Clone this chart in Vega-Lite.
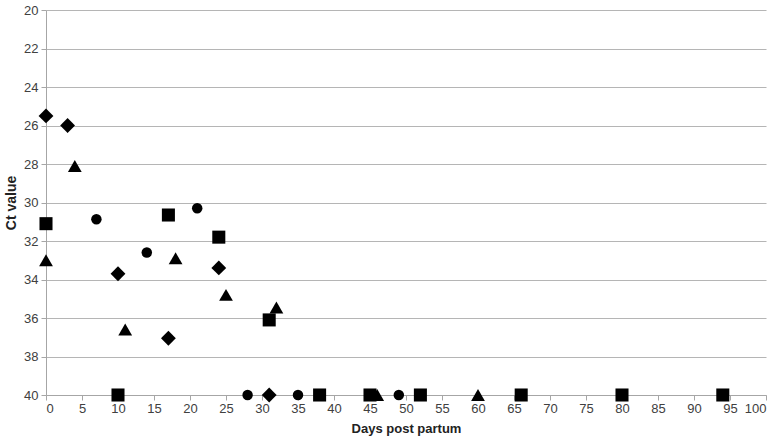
{
  "$schema": "https://vega.github.io/schema/vega-lite/v6.json",
  "width": 720,
  "height": 385,
  "autosize": {"type": "none"},
  "padding": {"left": 46, "top": 10, "right": 14, "bottom": 46},
  "background": "white",
  "config": {
    "view": {"stroke": null},
    "font": "Liberation Sans"
  },
  "data": {
    "values": [
      {"series": "A", "day": 0, "ct": 25.5},
      {"series": "A", "day": 3, "ct": 26.0},
      {"series": "A", "day": 10, "ct": 33.7},
      {"series": "A", "day": 17, "ct": 37.05},
      {"series": "A", "day": 24, "ct": 33.4},
      {"series": "A", "day": 31, "ct": 40},
      {"series": "B", "day": 0, "ct": 31.1},
      {"series": "B", "day": 10, "ct": 40},
      {"series": "B", "day": 17, "ct": 30.65},
      {"series": "B", "day": 24, "ct": 31.8},
      {"series": "B", "day": 31, "ct": 36.1},
      {"series": "B", "day": 38, "ct": 40},
      {"series": "B", "day": 45, "ct": 40},
      {"series": "B", "day": 52, "ct": 40},
      {"series": "B", "day": 66, "ct": 40},
      {"series": "B", "day": 80, "ct": 40},
      {"series": "B", "day": 94, "ct": 40},
      {"series": "C", "day": 0, "ct": 33.0},
      {"series": "C", "day": 4, "ct": 28.1},
      {"series": "C", "day": 11, "ct": 36.6},
      {"series": "C", "day": 18, "ct": 32.9},
      {"series": "C", "day": 25, "ct": 34.8},
      {"series": "C", "day": 32, "ct": 35.45},
      {"series": "C", "day": 46, "ct": 40},
      {"series": "C", "day": 60, "ct": 40},
      {"series": "D", "day": 7, "ct": 30.87},
      {"series": "D", "day": 14, "ct": 32.6},
      {"series": "D", "day": 21, "ct": 30.3},
      {"series": "D", "day": 28, "ct": 40},
      {"series": "D", "day": 35, "ct": 40},
      {"series": "D", "day": 49, "ct": 40}
    ]
  },
  "mark": {"type": "point", "filled": true, "opacity": 1, "color": "black"},
  "encoding": {
    "x": {
      "field": "day",
      "type": "quantitative",
      "scale": {"domain": [0, 100], "nice": false, "zero": false},
      "axis": {
        "title": "Days post partum",
        "values": [0,5,10,15,20,25,30,35,40,45,50,55,60,65,70,75,80,85,90,95,100],
        "grid": false,
        "domainColor": "#a6a6a6",
        "tickColor": "#a6a6a6",
        "tickSize": 5,
        "labelFontSize": 13,
        "labelColor": "#404040",
        "labelPadding": 2,
        "titleFontSize": 13,
        "titleFontWeight": "bold",
        "titleColor": "#222222",
        "titlePadding": 7
      }
    },
    "y": {
      "field": "ct",
      "type": "quantitative",
      "scale": {"domain": [20, 40], "reverse": true, "nice": false, "zero": false},
      "axis": {
        "title": "Ct value",
        "values": [20,22,24,26,28,30,32,34,36,38,40],
        "grid": true,
        "gridColor": "#b5b5b5",
        "gridWidth": 1,
        "domainColor": "#a6a6a6",
        "tickColor": "#a6a6a6",
        "tickSize": 5,
        "labelFontSize": 13,
        "labelColor": "#404040",
        "labelPadding": 3,
        "titleFontSize": 14,
        "titleFontWeight": "bold",
        "titleColor": "#222222",
        "titlePadding": 5
      }
    },
    "shape": {
      "field": "series",
      "type": "nominal",
      "scale": {"type": "ordinal", "domain": ["A", "B", "C", "D"], "range": ["diamond", "square", "triangle-up", "circle"]},
      "legend": null
    },
    "size": {
      "field": "series",
      "type": "nominal",
      "scale": {"type": "ordinal", "domain": ["A", "B", "C", "D"], "range": [220, 170, 190, 110]},
      "legend": null
    }
  }
}
